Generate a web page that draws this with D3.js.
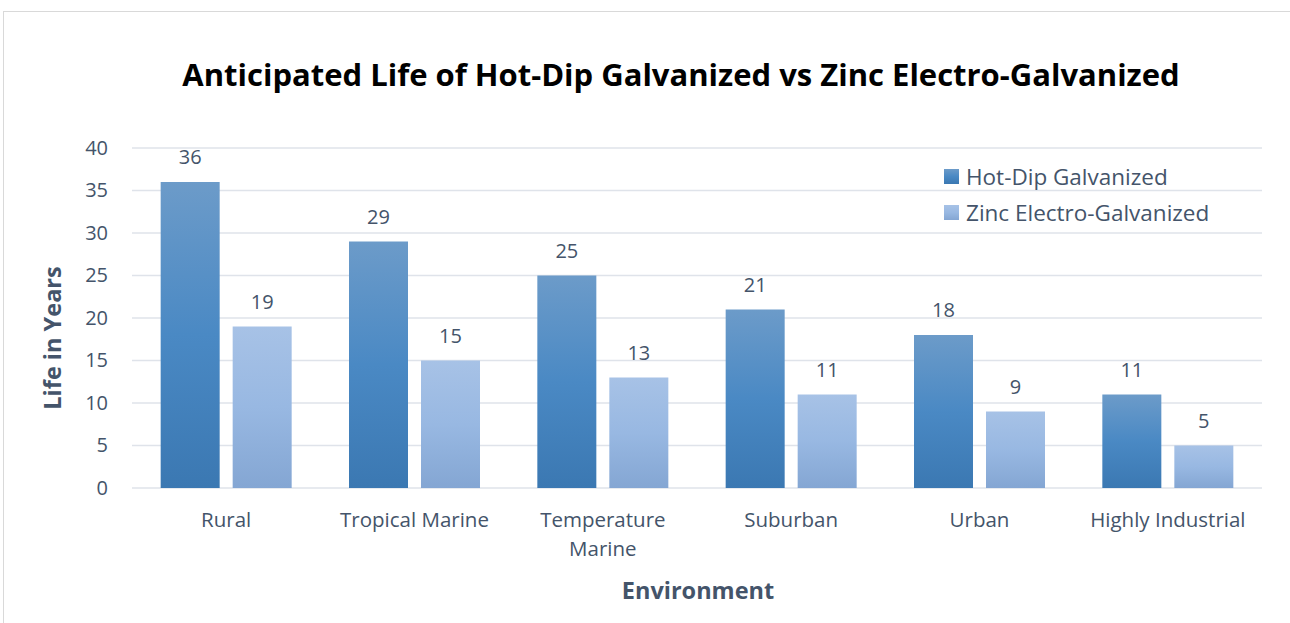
<!DOCTYPE html>
<html lang="en">
<head>
    <meta charset="UTF-8">
    <script src="https://cdn.jsdelivr.net/npm/d3@7"></script>
    <style>
        body { margin: 0; background: #fff; }
        text { font-family: "Open Sans", "Lato", sans-serif; }
    </style>
</head>
<body>
    <div id="chart"></div>
</body>
<script>
    // DATA
    const CATEGORIES = ["Rural", "Tropical Marine", "Temperature Marine", "Suburban", "Urban", "Highly Industrial"];
    const SERIES = ["Hot-Dip Galvanized", "Zinc Electro-Galvanized"];
    const HOT_DIP = [36, 29, 25, 21, 18, 11];
    const ZINC = [19, 15, 13, 11, 9, 5];
    const Y_TICKS = [0, 5, 10, 15, 20, 25, 30, 35, 40];

    const WIDTH = 1290;
    const HEIGHT = 623;
    const PLOT = { left: 132, right: 1262, top: 148, bottom: 488 };
    const TEXT_COL = "#44546a";

    const svg = d3.select("#chart").append("svg")
        .attr("width", WIDTH)
        .attr("height", HEIGHT);

    // gradients for the two series
    const defs = svg.append("defs");
    const grads = [
        { id: "gHot", stops: ["#6c9bc9", "#4a89c4", "#3b78b2"] },
        { id: "gZinc", stops: ["#a7c2e6", "#98b8e2", "#84a6d3"] }
    ];
    grads.forEach(g => {
        const lg = defs.append("linearGradient").attr("id", g.id)
            .attr("x1", 0).attr("y1", 0).attr("x2", 0).attr("y2", 1);
        g.stops.forEach((c, i) => lg.append("stop")
            .attr("offset", (i / (g.stops.length - 1) * 100) + "%")
            .attr("stop-color", c));
    });

    // chart frame
    svg.append("rect")
        .attr("x", 3.5).attr("y", 11.5)
        .attr("width", WIDTH + 10).attr("height", HEIGHT + 10)
        .attr("fill", "none").attr("stroke", "#d9d9d9");

    // scales
    const x0 = d3.scaleBand().domain(CATEGORIES)
        .range([PLOT.left, PLOT.right]).paddingInner(0).paddingOuter(0);
    const barW = 59, barGap = 13;
    const y = d3.scaleLinear().domain([0, 40]).range([PLOT.bottom, PLOT.top]);

    // gridlines
    svg.append("g").selectAll("line")
        .data(Y_TICKS).enter().append("line")
        .attr("x1", PLOT.left).attr("x2", PLOT.right)
        .attr("y1", d => y(d)).attr("y2", d => y(d))
        .attr("stroke", "#dfe3ea").attr("stroke-width", 1.5);

    // y axis labels
    const yAxis = d3.axisLeft(y).tickValues(Y_TICKS).tickSize(0).tickPadding(24);
    const yg = svg.append("g").attr("transform", `translate(${PLOT.left},0)`).call(yAxis);
    yg.select(".domain").remove();
    yg.selectAll("text")
        .attr("font-family", "Open Sans")
        .attr("font-size", 20).attr("fill", TEXT_COL);

    // bars
    const rows = CATEGORIES.map((c, i) => ({ cat: c, vals: [HOT_DIP[i], ZINC[i]] }));
    const groups = svg.append("g").selectAll("g")
        .data(rows).enter().append("g")
        .attr("transform", d => `translate(${x0(d.cat) + x0.bandwidth() / 2},0)`);

    groups.selectAll("rect")
        .data(d => d.vals).enter().append("rect")
        .attr("x", (d, i) => i === 0 ? -barW - barGap / 2 : barGap / 2)
        .attr("width", barW)
        .attr("y", d => y(d))
        .attr("height", d => y(0) - y(d))
        .attr("fill", (d, i) => `url(#${grads[i].id})`);

    // data labels
    groups.selectAll("text.val")
        .data(d => d.vals).enter().append("text")
        .attr("class", "val")
        .attr("x", (d, i) => i === 0 ? -barW / 2 - barGap / 2 : barW / 2 + barGap / 2)
        .attr("y", d => y(d) - 18)
        .attr("text-anchor", "middle")
        .attr("font-size", 20).attr("fill", TEXT_COL)
        .text(d => d);

    // category labels (Temperature Marine wraps)
    const wrapped = { "Temperature Marine": ["Temperature", "Marine"] };
    groups.each(function (d) {
        const lines = wrapped[d.cat] || [d.cat];
        const t = d3.select(this).append("text")
            .attr("text-anchor", "middle")
            .attr("font-size", 20.5).attr("fill", TEXT_COL);
        lines.forEach((l, i) => t.append("tspan")
            .attr("x", 0).attr("y", PLOT.bottom + 39 + i * 29).text(l));
    });

    // title
    svg.append("text")
        .attr("x", 681).attr("y", 86)
        .attr("text-anchor", "middle")
        .attr("font-size", 31).attr("font-weight", "bold").attr("fill", "#000")
        .text("Anticipated Life of Hot-Dip Galvanized vs Zinc Electro-Galvanized");

    // axis titles
    svg.append("text")
        .attr("transform", `translate(61,338) rotate(-90)`)
        .attr("text-anchor", "middle")
        .attr("font-size", 23.5).attr("font-weight", "bold").attr("fill", TEXT_COL)
        .text("Life in Years");

    svg.append("text")
        .attr("x", 698).attr("y", 599)
        .attr("text-anchor", "middle")
        .attr("font-size", 23.5).attr("font-weight", "bold").attr("fill", TEXT_COL)
        .text("Environment");

    // legend
    const legend = svg.append("g").attr("transform", "translate(944,169)");
    SERIES.forEach((s, i) => {
        const item = legend.append("g").attr("transform", `translate(0,${i * 36})`);
        item.append("rect").attr("width", 15).attr("height", 15)
            .attr("fill", `url(#${grads[i].id})`);
        item.append("text").attr("x", 22).attr("y", 16)
            .attr("font-size", 22.5).attr("fill", TEXT_COL).text(s);
    });
</script>
</html>
